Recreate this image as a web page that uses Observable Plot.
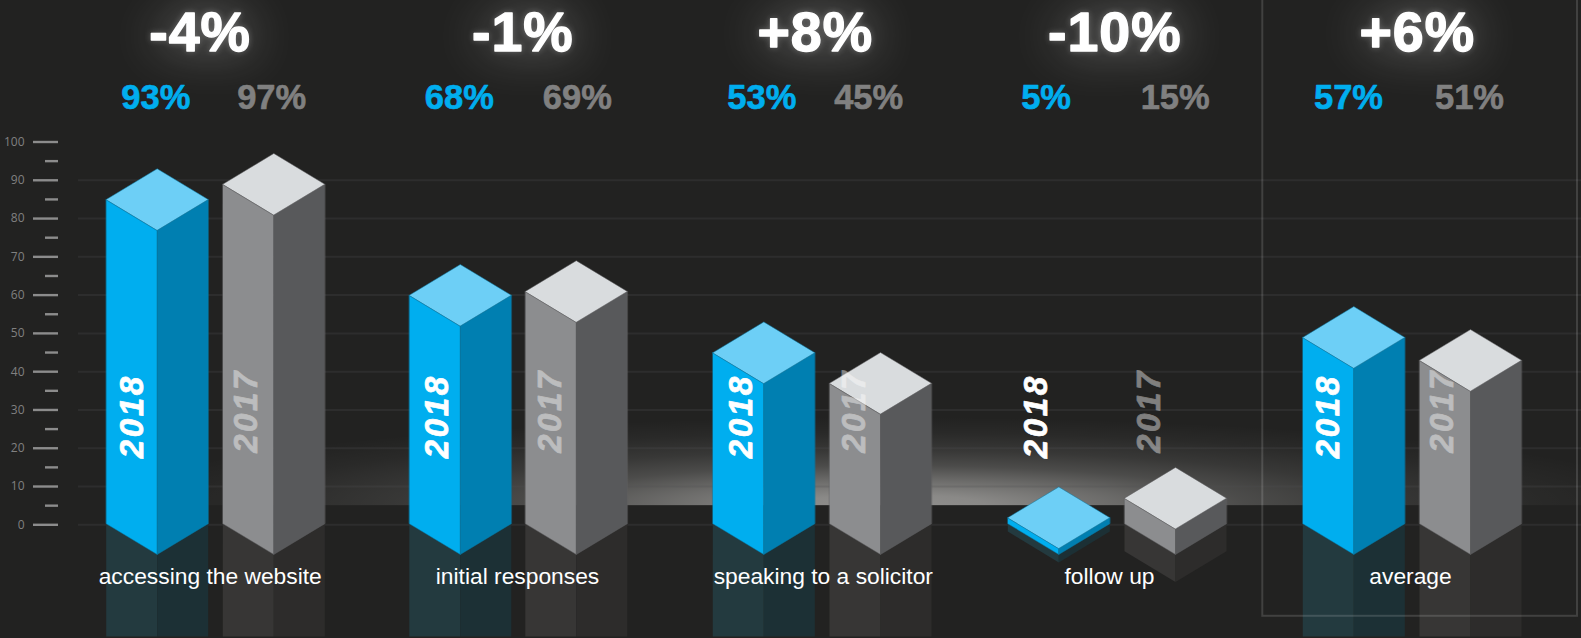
<!DOCTYPE html>
<html>
<head>
<meta charset="utf-8">
<script src="https://cdn.jsdelivr.net/npm/d3@7"></script>
<script src="https://cdn.jsdelivr.net/npm/@observablehq/plot@0.6"></script>
<style>
  html, body { margin: 0; padding: 0; background: #222221; }
  svg { display: block; }
  .years text { letter-spacing: 2.6px; }
  .changes text { letter-spacing: 1px; }
</style>
</head>
<body>
<div id="chart"></div>
<script>
// Survey satisfaction by stage, 2018 against 2017.
const categories = ["accessing the website", "initial responses", "speaking to a solicitor", "follow up", "average"];
const share2018 = [93, 68, 53, 5, 57];
const share2017 = [97, 69, 45, 15, 51];
const change = [-4, -1, 8, -10, 6];
const years = ["2018", "2017"];
const majorTicks = d3.range(0, 101, 10);
const minorTicks = d3.range(5, 100, 10);
const gridTicks = d3.range(0, 91, 10);

// Horizontal layout of each stage, in page pixels.
const layout = {
  bar2018: [156.7, 459.8, 763.3, 1058.3, 1353.3],
  bar2017: [273.3, 575.8, 880, 1175, 1470],
  year2018: [142.5, 447, 751.5, 1046.5, 1338.5],
  year2017: [256, 560.5, 864, 1159.5, 1452],
  share2018: [155.3, 458.8, 761.3, 1045.6, 1348],
  share2017: [271.2, 576.8, 868.2, 1174.7, 1469],
  change: [199.6, 522.3, 814.7, 1114.2, 1416.7],
  category: [209.7, 517, 822.8, 1109, 1410]
};

// Isometric geometry, in value units on the y scale.
const halfWidth = 51;
const depth = 16.08;       // apex of the top face to its front corner
const baseApex = 8.33;     // back corner of the footprint
const tileApex = 9.9;      // the lowest top a box can have, a thin tile
const reflectionFloor = -29.2;

const palette = {
  2018: {top: "#6dcff6", left: "#00aeef", right: "#007fb1", refLeft: "#233a3f", refRight: "#1c3035", edge: "#0a7aa5"},
  2017: {top: "#d9dcde", left: "#8c8d8f", right: "#58595b", refLeft: "#373635", refRight: "#2d2c2b", edge: "#606163"}
};

// Every box becomes a handful of closed polygons, back to front.
function boxFaces(cx, value, year, key) {
  const c = palette[year];
  const apex = Math.max(value, tileApex);
  const h = apex - baseApex;
  const l = cx - halfWidth, r = cx + halfWidth;
  const midBase = baseApex - depth / 2, frontBase = baseApex - depth;
  const midTop = apex - depth / 2, frontTop = apex - depth;
  const drop = h + 0.5;
  const low = (y) => Math.max(y - drop, reflectionFloor);
  const polygons = [
    {name: "refLeft", fill: c.refLeft, stroke: "none", pts: [[l, midBase], [cx, frontBase], [cx, low(frontBase)], [l, low(midBase)]]},
    {name: "refRight", fill: c.refRight, stroke: "none", pts: [[r, midBase], [cx, frontBase], [cx, low(frontBase)], [r, low(midBase)]]},
    {name: "left", fill: c.left, stroke: c.edge, pts: [[l, midBase], [cx, frontBase], [cx, frontTop], [l, midTop]]},
    {name: "right", fill: c.right, stroke: c.edge, pts: [[r, midBase], [cx, frontBase], [cx, frontTop], [r, midTop]]},
    {name: "top", fill: c.top, stroke: c.edge, pts: [[l, midTop], [cx, apex], [r, midTop], [cx, frontTop]]}
  ];
  return polygons.flatMap((p) =>
    p.pts.map(([x, y]) => ({id: `${key}-${year}-${p.name}`, x, y, fill: p.fill, stroke: p.stroke}))
  );
}

const faces = categories.flatMap((name, i) => [
  ...boxFaces(layout.bar2018[i], share2018[i], 2018, i),
  ...boxFaces(layout.bar2017[i], share2017[i], 2017, i)
]);

const idx = categories.map((_, i) => i);
const signed = (v) => `${v > 0 ? "+" : ""}${v}%`;

// Row heights for the text, in value units on the y scale.
const rowChange = 123.8;
const rowShare = 108.5;
const rowYears = 17.4;
const rowCategory = -15.4;
const sans = "Liberation Sans";

// Floor glow behind the columns, an ellipse cut off by the floor line.
const glowDefs = () => {
  const ns = "http://www.w3.org/2000/svg";
  const defs = document.createElementNS(ns, "defs");
  const g = document.createElementNS(ns, "radialGradient");
  g.setAttribute("id", "floor-glow");
  g.setAttribute("gradientUnits", "userSpaceOnUse");
  g.setAttribute("cx", 0); g.setAttribute("cy", 0); g.setAttribute("r", 1);
  g.setAttribute("gradientTransform", "translate(890,505) scale(790,88)");
  [[0, .5], [.12, .47], [.28, .34], [.45, .19], [.62, .1], [.82, .035], [1, 0]].forEach(([o, a]) => {
    const s = document.createElementNS(ns, "stop");
    s.setAttribute("offset", o);
    s.setAttribute("stop-color", "#fffdfa");
    s.setAttribute("stop-opacity", a);
    g.appendChild(s);
  });
  defs.appendChild(g);
  return defs;
};

const chart = Plot.plot({
  width: 1581,
  height: 638,
  marginLeft: 58,
  marginRight: 0,
  marginTop: 0,
  marginBottom: 0,
  style: {background: "#222221", overflow: "hidden"},
  x: {domain: [0, 1581], range: [0, 1581], axis: null},
  y: {domain: [0, 100], range: [524.3, 141.5], axis: null},
  color: {type: "identity"},
  marks: [
    glowDefs,
    Plot.ruleY(gridTicks, {x1: 78, x2: 1581, stroke: "#303030", strokeWidth: 2}),
    Plot.rect([0], {x1: 0, x2: 1581, y1: 5, y2: 28, fill: "url(#floor-glow)"}),
    Plot.ruleY(gridTicks, {x1: 78, x2: 1581, stroke: "#222", strokeOpacity: 0.2, strokeWidth: 2}),
    Plot.axisY(majorTicks, {
      anchor: "left", tickSize: 25, tickPadding: 9, strokeWidth: 2.4, stroke: "#8c8c8c",
      fill: "#808080", fontSize: 12, fontFamily: "Open Sans", label: null
    }),
    Plot.ruleY(minorTicks, {x1: 45, x2: 58, stroke: "#8c8c8c", strokeWidth: 2.4}),
    Plot.line(faces, {
      x: "x", y: "y", z: "id", fill: "fill", stroke: "stroke",
      strokeWidth: 0.5, curve: "linear-closed"
    }),
    // Frame around the average column, open past the top of the page.
    Plot.rect([0], {
      x1: 1262.3, x2: 1577, y1: -23.9, y2: 145,
      fill: "none", stroke: "#fff", strokeOpacity: 0.14, strokeWidth: 2
    }),
    Plot.text(idx, {
      x: (i) => layout.year2018[i], y: rowYears, text: () => years[0], rotate: -90,
      textAnchor: "start", lineAnchor: "bottom", fill: "#fff", stroke: "#fff", strokeWidth: 0.7,
      fontFamily: sans, fontWeight: "bold", fontStyle: "italic", fontSize: 33, className: "years"
    }),
    Plot.text(idx, {
      x: (i) => layout.year2017[i], y: rowYears + 1.4, text: () => years[1], rotate: -90,
      textAnchor: "start", lineAnchor: "bottom", fill: "#fff", stroke: "#fff", strokeWidth: 0.7, opacity: 0.42,
      fontFamily: sans, fontWeight: "bold", fontStyle: "italic", fontSize: 33, className: "years"
    }),
    Plot.text(idx, {
      x: (i) => layout.share2018[i], y: rowShare, text: (i) => `${share2018[i]}%`,
      lineAnchor: "bottom", fill: "#00aeef", stroke: "#00aeef", strokeWidth: 0.6,
      fontFamily: sans, fontWeight: "bold", fontSize: 34.5
    }),
    Plot.text(idx, {
      x: (i) => layout.share2017[i], y: rowShare, text: (i) => `${share2017[i]}%`,
      lineAnchor: "bottom", fill: "#808080", stroke: "#808080", strokeWidth: 0.6,
      fontFamily: sans, fontWeight: "bold", fontSize: 34.5
    }),
    Plot.text(idx, {
      x: (i) => layout.change[i], y: rowChange, text: (i) => signed(change[i]),
      lineAnchor: "bottom", fill: "#fff", stroke: "#fff", strokeWidth: 1.4,
      fontFamily: sans, fontWeight: "bold", fontSize: 55.5, className: "changes",
      imageFilter: "drop-shadow(0 0 3px rgba(255,255,255,.25)) drop-shadow(0 0 24px rgba(255,255,255,.42))"
    }),
    Plot.text(idx, {
      x: (i) => layout.category[i], y: rowCategory, text: (i) => categories[i],
      lineAnchor: "bottom", fill: "#fff", fontFamily: sans, fontSize: 22.8
    })
  ]
});

document.getElementById("chart").appendChild(chart);
</script>
</body>
</html>
